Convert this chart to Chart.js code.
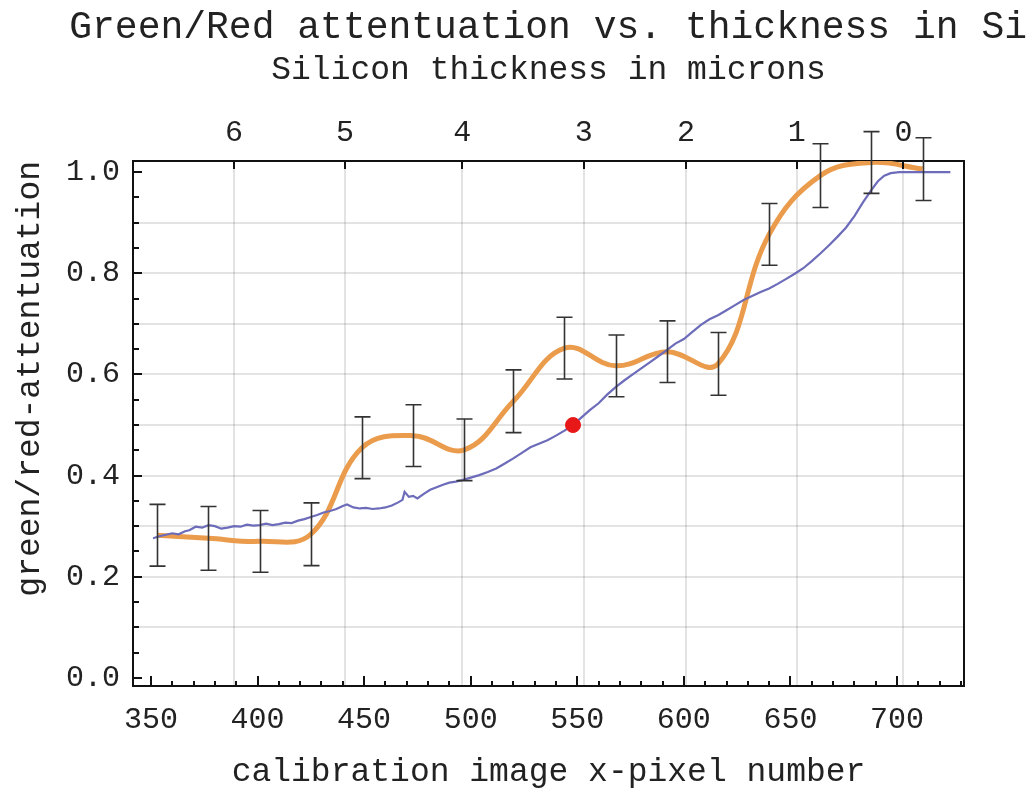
<!DOCTYPE html>
<html>
<head>
<meta charset="utf-8">
<script src="https://cdn.jsdelivr.net/npm/chart.js@4/dist/chart.umd.min.js"></script>
<style>
  html, body { margin: 0; padding: 0; background: #fff; }
  canvas { display: block; }
</style>
</head>
<body>
<canvas id="chart" width="1035" height="798"></canvas>
<script>
// error bar points (pixel number, ratio, half error)
const barX = [353, 377, 401, 425, 449, 473, 497, 520, 544, 568, 592, 616, 640, 664, 688, 712];
const barY = [0.282, 0.276, 0.270, 0.284, 0.455, 0.479, 0.451, 0.547, 0.652, 0.617, 0.645, 0.621, 0.877, 0.993, 1.019, 1.006];
const barErr = [0.061, 0.063, 0.061, 0.062, 0.061, 0.061, 0.061, 0.062, 0.061, 0.061, 0.061, 0.062, 0.061, 0.063, 0.061, 0.062];

// measured calibration curve
const blueX = [351, 354, 357, 360, 363, 366, 368, 371, 374, 377, 380, 383, 386, 389, 392, 395, 398, 401, 404, 407,
  410, 413, 416, 419, 422, 425, 428, 431, 434, 437, 440, 442, 445, 448, 451, 454, 457, 460, 463, 466,
  468, 469, 471, 473, 475, 478, 481, 484, 487, 490, 493, 496, 500, 504, 508, 512, 516, 520, 524, 528,
  532, 536, 540, 544, 548, 552, 556, 560, 564, 568, 572, 576, 580, 584, 588, 592, 596, 600, 604, 608,
  612, 616, 620, 624, 628, 632, 636, 640, 644, 648, 652, 656, 660, 664, 668, 672, 676, 680, 684, 688,
  691, 694, 697, 701, 710, 718, 725];
const blueY = [0.276, 0.280, 0.283, 0.286, 0.284, 0.290, 0.292, 0.299, 0.297, 0.302, 0.300, 0.295, 0.297, 0.300, 0.299, 0.303, 0.301, 0.302, 0.305, 0.302,
  0.304, 0.307, 0.306, 0.311, 0.314, 0.318, 0.322, 0.327, 0.330, 0.334, 0.340, 0.343, 0.337, 0.335, 0.336, 0.334, 0.335, 0.337, 0.341, 0.347,
  0.352, 0.368, 0.358, 0.360, 0.355, 0.364, 0.372, 0.377, 0.382, 0.386, 0.388, 0.391, 0.396, 0.401, 0.407, 0.414, 0.424, 0.434, 0.445, 0.456,
  0.463, 0.470, 0.479, 0.489, 0.500, 0.515, 0.530, 0.543, 0.560, 0.575, 0.588, 0.600, 0.612, 0.624, 0.636, 0.648, 0.661, 0.670, 0.684, 0.698,
  0.709, 0.717, 0.727, 0.737, 0.747, 0.755, 0.763, 0.770, 0.779, 0.789, 0.799, 0.810, 0.824, 0.839, 0.855, 0.872, 0.890, 0.913, 0.940, 0.965,
  0.982, 0.993, 0.998, 1.000, 1.000, 1.000, 1.000];

// highlighted point
const markX = [548];
const markY = [0.50];

// axis ticks
const xTicks = [350, 400, 450, 500, 550, 600, 650, 700];
const yTicks = [0, 0.1, 0.2, 0.3, 0.4, 0.5, 0.6, 0.7, 0.8, 0.9, 1.0];
const micronPos = [389, 441, 496, 553, 601, 653, 703];
const micronLabels = ['6', '5', '4', '3', '2', '1', '0'];

const X_MIN = 341.6, X_MAX = 731.4;
const GRID = 'rgba(0,0,0,0.11)';

Chart.defaults.font.family = "'Liberation Mono', 'DejaVu Sans Mono', monospace";
Chart.defaults.color = '#222';

const toPts = (xs, ys) => xs.map((x, i) => ({x: x, y: ys[i]}));

// error bars drawn through the scales
const errorBars = {
  id: 'errorBars',
  afterDatasetsDraw(chart) {
    const {ctx, scales: {x, y}} = chart;
    ctx.save();
    ctx.strokeStyle = '#333';
    ctx.lineWidth = 1.6;
    ctx.beginPath();
    barX.forEach((v, i) => {
      const px = Math.round(x.getPixelForValue(v)) + 0.5;
      const top = y.getPixelForValue(barY[i] + barErr[i]);
      const bot = y.getPixelForValue(barY[i] - barErr[i]);
      ctx.moveTo(px, top); ctx.lineTo(px, bot);
      ctx.moveTo(px - 8, top); ctx.lineTo(px + 8, top);
      ctx.moveTo(px - 8, bot); ctx.lineTo(px + 8, bot);
    });
    ctx.stroke();
    ctx.restore();
  }
};

// tick marks pointing into the plot
const insideTicks = {
  id: 'insideTicks',
  afterDraw(chart) {
    const {ctx, chartArea: a, scales: {x, y, x2}} = chart;
    ctx.save();
    ctx.strokeStyle = '#111';
    ctx.lineWidth = 2;
    ctx.beginPath();
    for (let v = 350; v <= 730; v += 10) {
      const px = Math.round(x.getPixelForValue(v));
      const len = v % 50 === 0 ? 10 : 5;
      ctx.moveTo(px, a.bottom); ctx.lineTo(px, a.bottom - len);
    }
    for (let k = 0; k <= 20; k++) {
      const py = Math.round(y.getPixelForValue(k * 0.05));
      const len = k % 4 === 0 ? 9 : 6;
      ctx.moveTo(a.left, py); ctx.lineTo(a.left + len, py);
    }
    micronPos.forEach(v => {
      const px = Math.round(x2.getPixelForValue(v));
      ctx.moveTo(px, a.top); ctx.lineTo(px, a.top + 8);
    });
    ctx.stroke();
    ctx.restore();
  }
};

new Chart(document.getElementById('chart'), {
  type: 'scatter',
  data: {
    datasets: [
      {
        label: 'marker',
        data: toPts(markX, markY),
        backgroundColor: '#e81818',
        borderColor: '#e81818',
        pointRadius: 7.5,
        showLine: false
      },
      {
        label: 'measured',
        data: toPts(blueX, blueY),
        borderColor: 'rgb(108,108,186)',
        borderWidth: 2.2,
        pointRadius: 0,
        showLine: true,
        tension: 0
      },
      {
        label: 'fit',
        data: toPts(barX, barY),
        borderColor: 'rgb(234,156,76)',
        borderWidth: 5,
        pointRadius: 0,
        showLine: true,
        tension: 0.4
      }
    ]
  },
  options: {
    responsive: false,
    animation: false,
    layout: {padding: {left: 0, right: 8, top: 0, bottom: 0}},
    plugins: {
      legend: {display: false},
      tooltip: {enabled: false},
      title: {
        display: true,
        text: 'Green/Red attentuation vs. thickness in Si',
        align: 'end',
        font: {size: 38, weight: 'normal'},
        color: '#222',
        padding: {top: 5, bottom: 0}
      }
    },
    scales: {
      x: {
        type: 'linear',
        position: 'bottom',
        min: X_MIN,
        max: X_MAX,
        afterBuildTicks: s => { s.ticks = xTicks.map(v => ({value: v})); },
        afterFit: s => { s.height = 112; },
        ticks: {font: {size: 30}, padding: 16, maxRotation: 0, autoSkip: false},
        grid: {drawOnChartArea: false, drawTicks: false},
        border: {color: '#111', width: 2},
        title: {display: true, text: 'calibration image x-pixel number', font: {size: 33}, padding: {top: 0, bottom: 6}}
      },
      x2: {
        type: 'linear',
        position: 'top',
        min: X_MIN,
        max: X_MAX,
        afterBuildTicks: s => { s.ticks = micronPos.map(v => ({value: v})); },
        afterFit: s => { s.height = 110.4; },
        ticks: {
          font: {size: 30}, padding: 10, maxRotation: 0, autoSkip: false,
          callback: (v, i) => micronLabels[i]
        },
        grid: {color: GRID, lineWidth: 2, drawTicks: false},
        border: {color: '#111', width: 2},
        title: {display: true, text: 'Silicon thickness in microns', font: {size: 33}, padding: {top: 0, bottom: 0}}
      },
      y: {
        type: 'linear',
        position: 'left',
        min: -0.016,
        max: 1.022,
        afterBuildTicks: s => { s.ticks = yTicks.map(v => ({value: v})); },
        afterFit: s => { s.width = 133; },
        ticks: {
          font: {size: 30}, padding: 13, autoSkip: false,
          callback: v => (Math.round(v * 10) % 2 === 0 ? v.toFixed(1) : '')
        },
        grid: {
          color: ctx => {
            const k = Math.round(ctx.tick.value * 10);
            return (k === 0 || k === 10) ? 'rgba(0,0,0,0)' : GRID;
          },
          lineWidth: 2,
          drawTicks: false
        },
        border: {color: '#111', width: 2},
        title: {display: true, text: 'green/red-attentuation', align: 'end', font: {size: 33}, padding: {top: 10, bottom: 0}}
      },
      y2: {
        type: 'linear',
        position: 'right',
        min: 0,
        max: 1,
        afterFit: s => { s.width = 63; },
        ticks: {display: false},
        grid: {drawOnChartArea: false, drawTicks: false},
        border: {color: '#111', width: 2}
      }
    }
  },
  plugins: [errorBars, insideTicks]
});
</script>
</body>
</html>
